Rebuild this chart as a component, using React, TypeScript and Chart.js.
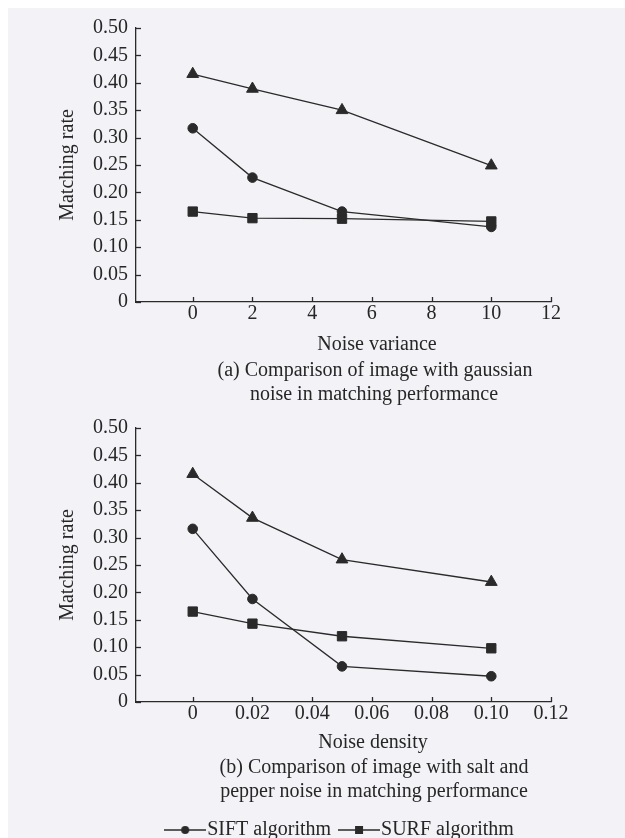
import React, { useEffect, useRef } from "react";
import { Chart, registerables } from "chart.js";

Chart.register(...registerables);

// ---------- data ----------
const seriesNames = ["SIFT algorithm", "SURF algorithm", "Improved algorithm"];

const gaussianX = [0, 2, 5, 10];
const gaussianSIFT = [0.317, 0.227, 0.165, 0.137];
const gaussianSURF = [0.165, 0.153, 0.152, 0.147];
const gaussianImproved = [0.416, 0.389, 0.35, 0.249];
const gaussianTicksX = [0, 2, 4, 6, 8, 10, 12];

const saltX = [0, 0.02, 0.05, 0.1];
const saltSIFT = [0.316, 0.188, 0.065, 0.047];
const saltSURF = [0.165, 0.143, 0.12, 0.098];
const saltImproved = [0.416, 0.336, 0.26, 0.219];
const saltTicksX = [0, 0.02, 0.04, 0.06, 0.08, 0.1, 0.12];

const yTicks = [0, 0.05, 0.1, 0.15, 0.2, 0.25, 0.3, 0.35, 0.4, 0.45, 0.5];

const yTitle = "Matching rate";
const gaussianTexts = [
  "Noise variance",
  "(a) Comparison of image with gaussian",
  "noise in matching performance",
];
const saltTexts = [
  "Noise density",
  "(b) Comparison of image with salt and",
  "pepper noise in matching performance",
];

// ---------- style ----------
const BG = "#f3f3f7";
const TEXT = "#262626";
const LINE = "#2a2a2a";
const FONT = "'Liberation Serif', 'Times New Roman', Times, serif";
const FS = 20;

function makeIcon(style: "circle" | "rect") {
  const c = document.createElement("canvas");
  c.width = 42;
  c.height = 12;
  const ctx = c.getContext("2d")!;
  ctx.strokeStyle = LINE;
  ctx.lineWidth = 1.5;
  ctx.beginPath();
  ctx.moveTo(0, 6);
  ctx.lineTo(42, 6);
  ctx.stroke();
  ctx.fillStyle = LINE;
  if (style === "circle") {
    ctx.beginPath();
    ctx.arc(21, 6, 4, 0, Math.PI * 2);
    ctx.fill();
  } else {
    ctx.fillRect(17, 2, 8, 8);
  }
  return c;
}

const insideTicks = {
  id: "insideTicks",
  afterDraw(chart: any) {
    const { ctx, chartArea, scales } = chart;
    ctx.save();
    ctx.strokeStyle = LINE;
    ctx.lineWidth = 1.3;
    scales.x.ticks.forEach((t: any) => {
      const px = Math.round(scales.x.getPixelForValue(t.value)) + 0.5;
      ctx.beginPath();
      ctx.moveTo(px, chartArea.bottom);
      ctx.lineTo(px, chartArea.bottom - 5);
      ctx.stroke();
    });
    scales.y.ticks.forEach((t: any) => {
      const py = Math.round(scales.y.getPixelForValue(t.value)) + 0.5;
      ctx.beginPath();
      ctx.moveTo(chartArea.left, py);
      ctx.lineTo(chartArea.left + 5, py);
      ctx.stroke();
    });
    ctx.restore();
  },
};

const captions = {
  id: "captions",
  afterDraw(chart: any, _args: any, opts: any) {
    const { ctx, chartArea } = chart;
    ctx.save();
    ctx.fillStyle = TEXT;
    ctx.font = `${FS}px ${FONT}`;
    ctx.textAlign = "center";
    ctx.textBaseline = "middle";
    (opts.lines || []).forEach((l: any) => {
      ctx.fillText(l.text, chartArea.left + l.dx, chartArea.bottom + l.dy);
    });
    ctx.restore();
  },
};

const fmt2 = (v: number) => (v === 0 ? "0" : v.toFixed(2));

function buildConfig(opts: {
  xs: number[];
  sift: number[];
  surf: number[];
  improved: number[];
  xTicks: number[];
  xMin: number;
  xMax: number;
  xFmt: (v: number) => string;
  texts: string[];
  offsets: { dx: number; dy: number }[];
  legend: boolean;
  xHeight: number;
}) {
  const pts = (ys: number[]) => opts.xs.map((x, i) => ({ x, y: ys[i] }));
  const common = {
    borderColor: LINE,
    borderWidth: 1.3,
    pointBackgroundColor: LINE,
    pointBorderColor: LINE,
    pointBorderWidth: 1,
    tension: 0,
    fill: false,
  };
  const icons = [makeIcon("circle"), makeIcon("rect")];
  return {
    type: "line",
    data: {
      datasets: [
        { ...common, label: seriesNames[0], data: pts(opts.sift), pointStyle: "circle", pointRadius: 4.8 },
        { ...common, label: seriesNames[1], data: pts(opts.surf), pointStyle: "rect", pointRadius: 6.6 },
        { ...common, label: seriesNames[2], data: pts(opts.improved), pointStyle: "triangle", pointRadius: 6.8 },
      ],
    },
    options: {
      responsive: false,
      animation: false,
      events: [],
      layout: { padding: { top: 16, right: 66, bottom: 0, left: 0 } },
      font: { family: FONT, size: FS },
      scales: {
        x: {
          type: "linear",
          min: opts.xMin,
          max: opts.xMax,
          afterBuildTicks: (s: any) => {
            s.ticks = opts.xTicks.map((v) => ({ value: v }));
          },
          afterFit: (s: any) => {
            s.height = opts.xHeight;
          },
          grid: { display: true, drawOnChartArea: false, drawTicks: false, color: "rgba(0,0,0,0)" },
          border: { display: true, color: LINE, width: 1.3 },
          ticks: {
            color: TEXT,
            padding: 0,
            font: { family: FONT, size: FS },
            maxRotation: 0,
            autoSkip: false,
            callback: (v: any) => opts.xFmt(Number(v)),
          },
        },
        y: {
          type: "linear",
          min: 0,
          max: 0.5,
          afterBuildTicks: (s: any) => {
            s.ticks = yTicks.map((v) => ({ value: v }));
          },
          afterFit: (s: any) => {
            s.width = 128;
          },
          grid: { display: true, drawOnChartArea: false, drawTicks: false, color: "rgba(0,0,0,0)" },
          border: { display: true, color: LINE, width: 1.3 },
          ticks: {
            color: TEXT,
            padding: 8,
            font: { family: FONT, size: FS },
            autoSkip: false,
            callback: (v: any) => fmt2(Number(v)),
          },
          title: {
            display: true,
            text: yTitle,
            color: TEXT,
            font: { family: FONT, size: FS },
            padding: { top: 48, bottom: 0 },
          },
        },
      },
      plugins: {
        tooltip: { enabled: false },
        title: { display: false },
        legend: {
          display: opts.legend,
          position: "bottom",
          align: "center",
          fullSize: false,
          labels: {
            color: TEXT,
            font: { family: FONT, size: FS },
            usePointStyle: true,
            pointStyleWidth: 24,
            padding: 16,
            generateLabels: (chart: any) => {
              const items = (Chart as any).defaults.plugins.legend.labels.generateLabels(chart);
              return items
                .filter((it: any) => it.datasetIndex < 2)
                .map((it: any) => ({ ...it, pointStyle: icons[it.datasetIndex], fontColor: TEXT }));
            },
          },
        },
        captions: {
          lines: opts.texts.map((t, i) => ({ text: t, dx: opts.offsets[i].dx, dy: opts.offsets[i].dy })),
        },
      },
    },
    plugins: [insideTicks, captions],
  };
}

function ChartCanvas({ config, width, height }: { config: () => any; width: number; height: number }) {
  const ref = useRef<HTMLCanvasElement | null>(null);
  useEffect(() => {
    if (!ref.current) return;
    const chart = new Chart(ref.current, config());
    return () => chart.destroy();
  }, []);
  return <canvas ref={ref} width={width} height={height} style={{ display: "block" }} />;
}

export default function App() {
  const gaussianConfig = () =>
    buildConfig({
      xs: gaussianX,
      sift: gaussianSIFT,
      surf: gaussianSURF,
      improved: gaussianImproved,
      xTicks: gaussianTicksX,
      xMin: -1.9,
      xMax: 12,
      xFmt: (v) => String(v),
      texts: gaussianTexts,
      offsets: [
        { dx: 241, dy: 43 },
        { dx: 239, dy: 69 },
        { dx: 238, dy: 93 },
      ],
      legend: false,
      xHeight: 106,
    });
  const saltConfig = () =>
    buildConfig({
      xs: saltX,
      sift: saltSIFT,
      surf: saltSURF,
      improved: saltImproved,
      xTicks: saltTicksX,
      xMin: -0.019,
      xMax: 0.12,
      xFmt: fmt2,
      texts: saltTexts,
      offsets: [
        { dx: 237, dy: 41 },
        { dx: 238, dy: 66 },
        { dx: 238, dy: 90 },
      ],
      legend: true,
      xHeight: 102,
    });
  return (
    <div
      style={{
        position: "absolute",
        top: 8,
        left: 8,
        background: BG,
        width: 617,
        height: 830,
        overflow: "hidden",
      }}
    >
      <div style={{ height: 400, overflow: "hidden" }}>
        <ChartCanvas config={gaussianConfig} width={609} height={400} />
      </div>
      <div style={{ height: 430, overflow: "hidden" }}>
        <ChartCanvas config={saltConfig} width={609} height={442} />
      </div>
    </div>
  );
}
